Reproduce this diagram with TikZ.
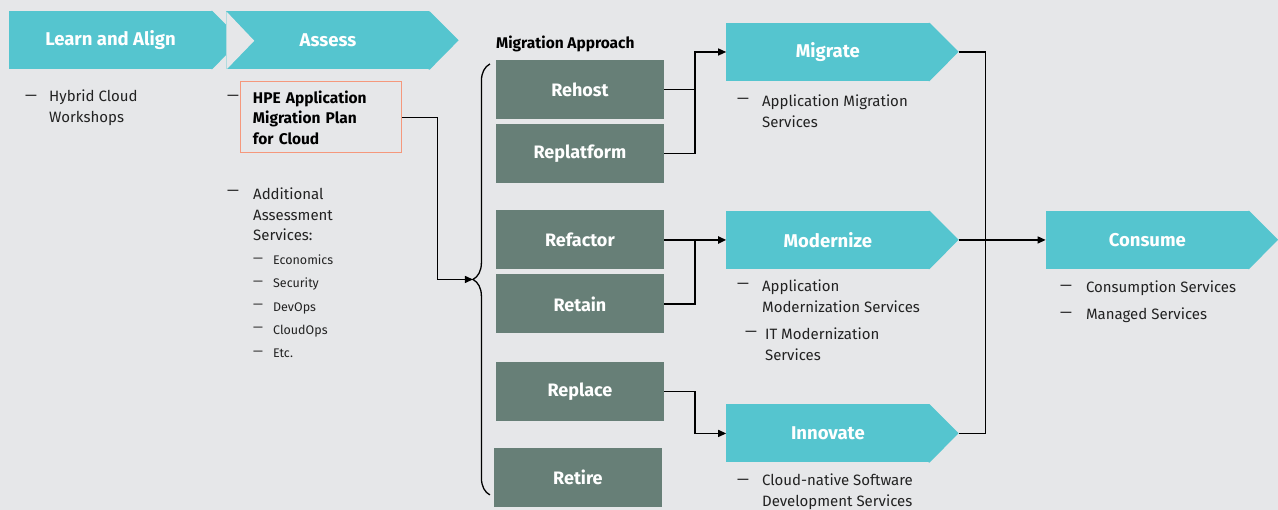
\documentclass[tikz,border=0pt]{standalone}
\usepackage{fontspec}
\setmainfont{Fira Sans}
\usetikzlibrary{arrows.meta,decorations.pathreplacing}
\definecolor{aqua}{HTML}{55C5CF}
\definecolor{sage}{HTML}{677F77}
\definecolor{paper}{HTML}{E6E7E9}
\definecolor{salmon}{HTML}{F5987C}
\definecolor{ink}{HTML}{222222}

\begin{document}
\begin{tikzpicture}[x=1pt,y=-1pt,
		phase/.style={fill=aqua,text=white,font=\fontsize{18.5}{20}\bfseries\selectfont,minimum width=203pt,minimum height=58pt,inner sep=0pt},
		approach/.style={fill=sage,text=white,font=\fontsize{18}{20}\bfseries\selectfont,minimum width=168pt,minimum height=59pt,inner sep=0pt},
		item/.style={text=ink,font=\fontsize{15}{20.5}\selectfont,align=left,anchor=west,inner sep=0pt},
		subitem/.style={text=ink,font=\fontsize{12.5}{23.3}\selectfont,align=left,anchor=west,inner sep=0pt},
		link/.style={draw=black,line width=1.3pt},
		>={Triangle[length=8pt,width=7pt]}]
	\fill[paper] (0,0) rectangle (1278,510);
	% phases
	\node[phase] (learn) at (110.5,40) {Learn and Align};
	\node[phase] (assess) at (328,40.5) {Assess};
	\node[phase] (migrate) at (828,52) {Migrate};
	\node[phase] (modernize) at (828,240) {Modernize};
	\node[phase] (innovate) at (828,433.5) {Innovate};
	\node[phase] (consume) at (1147.5,240) {Consume};
	\foreach \n in {learn,assess,migrate,modernize,innovate,consume}
		\fill[aqua] (\n.north east) ++(-1,0) -- ++(1,0) -- ++(29,29) -- (\n.south east) -- ++(-1,0) -- cycle;
	\fill[paper] (assess.north west) -- ++(28,29.5) -- (assess.south west) -- cycle;
	\path (migrate.east) ++(29,0) coordinate (migrate tip);
	\path (modernize.east) ++(29,0) coordinate (modernize tip);
	\path (innovate.east) ++(29,0) coordinate (innovate tip);
	% migration approach
	\node[anchor=west,inner sep=0pt,text=black,font=\fontsize{15.5}{16}\bfseries\selectfont] (approach title) at (496,44) {Migration Approach};
	\node[approach] (rehost) at (580,89.5) {Rehost};
	\node[approach] (replatform) at (580,153.5) {Replatform};
	\node[approach] (refactor) at (580,240) {Refactor};
	\node[approach] (retain) at (580,304) {Retain};
	\node[approach] (replace) at (580,391.5) {Replace};
	\node[approach] (retire) at (578,477.5) {Retire};
	\draw[line width=1.3pt,decorate,decoration={brace,amplitude=17pt}] (490,495) -- (490,64);
	\coordinate (brace tip) at (473,279.5);
	% assess column
	\node[draw=salmon,line width=1pt,text=black,font=\fontsize{15.5}{20.5}\bfseries\selectfont,align=left,text width=137pt,inner xsep=12pt,inner ysep=0pt,minimum height=71pt] (hpe) at (321.5,117.5) {HPE Application\\Migration Plan\\for Cloud};
	\node[item] (hpe dash) at (227,98) {—};
	\node[item] (extra dash) at (227,193) {—};
	\node[item] (extra) at (253,214.5) {Additional\\Assessment\\Services:};
	\node[subitem] (extra dashes) at (253,306.5) {—\\—\\—\\—\\—};
	\node[subitem] (extra list) at (273,306.5) {Economics\\Security\\DevOps\\CloudOps\\Etc.};
	% learn column
	\node[item] (learn dash) at (25,98) {—};
	\node[item] (workshops) at (49,108) {Hybrid Cloud\\Workshops};
	% right columns
	\node[item] (migrate dash) at (737,101) {—};
	\node[item] (migration services) at (762,111.5) {Application Migration\\Services};
	\node[item] (modernize dash) at (737,286) {—};
	\node[item] (app services) at (762,296.5) {Application\\Modernization Services};
	\node[item] (it dash) at (745,334) {—};
	\node[item] (it services) at (765,344.5) {IT Modernization\\Services};
	\node[item] (innovate dash) at (737,482) {—};
	\node[item] (dev services) at (762,492) {Cloud-native Software\\Development Services};
	\node[item] (consume dash) at (1060,288) {—};
	\node[item] (consumption) at (1086,288) {Consumption Services};
	\node[item] (managed dash) at (1060,315) {—};
	\node[item] (managed) at (1086,315) {Managed Services};
	% connectors
	\draw[link,->] (hpe.east) -- ++(35,0) |- (brace tip);
	\draw[link,->] (rehost.east) -- ++(31,0) |- (migrate.west);
	\draw[link] (replatform.east) -- ++(31,0) |- (rehost.east);
	\draw[link,->,line width=2pt] (refactor.east) -- (modernize.west);
	\draw[link] (retain.east) -- ++(31,0) |- (refactor.east);
	\draw[link,->] (replace.east) -- ++(31,0) |- (innovate.west);
	\draw[link] (migrate tip) -- ++(27,0) |- (innovate tip);
	\draw[link,->] (modernize tip) -- (consume.west);
\end{tikzpicture}
\end{document}
